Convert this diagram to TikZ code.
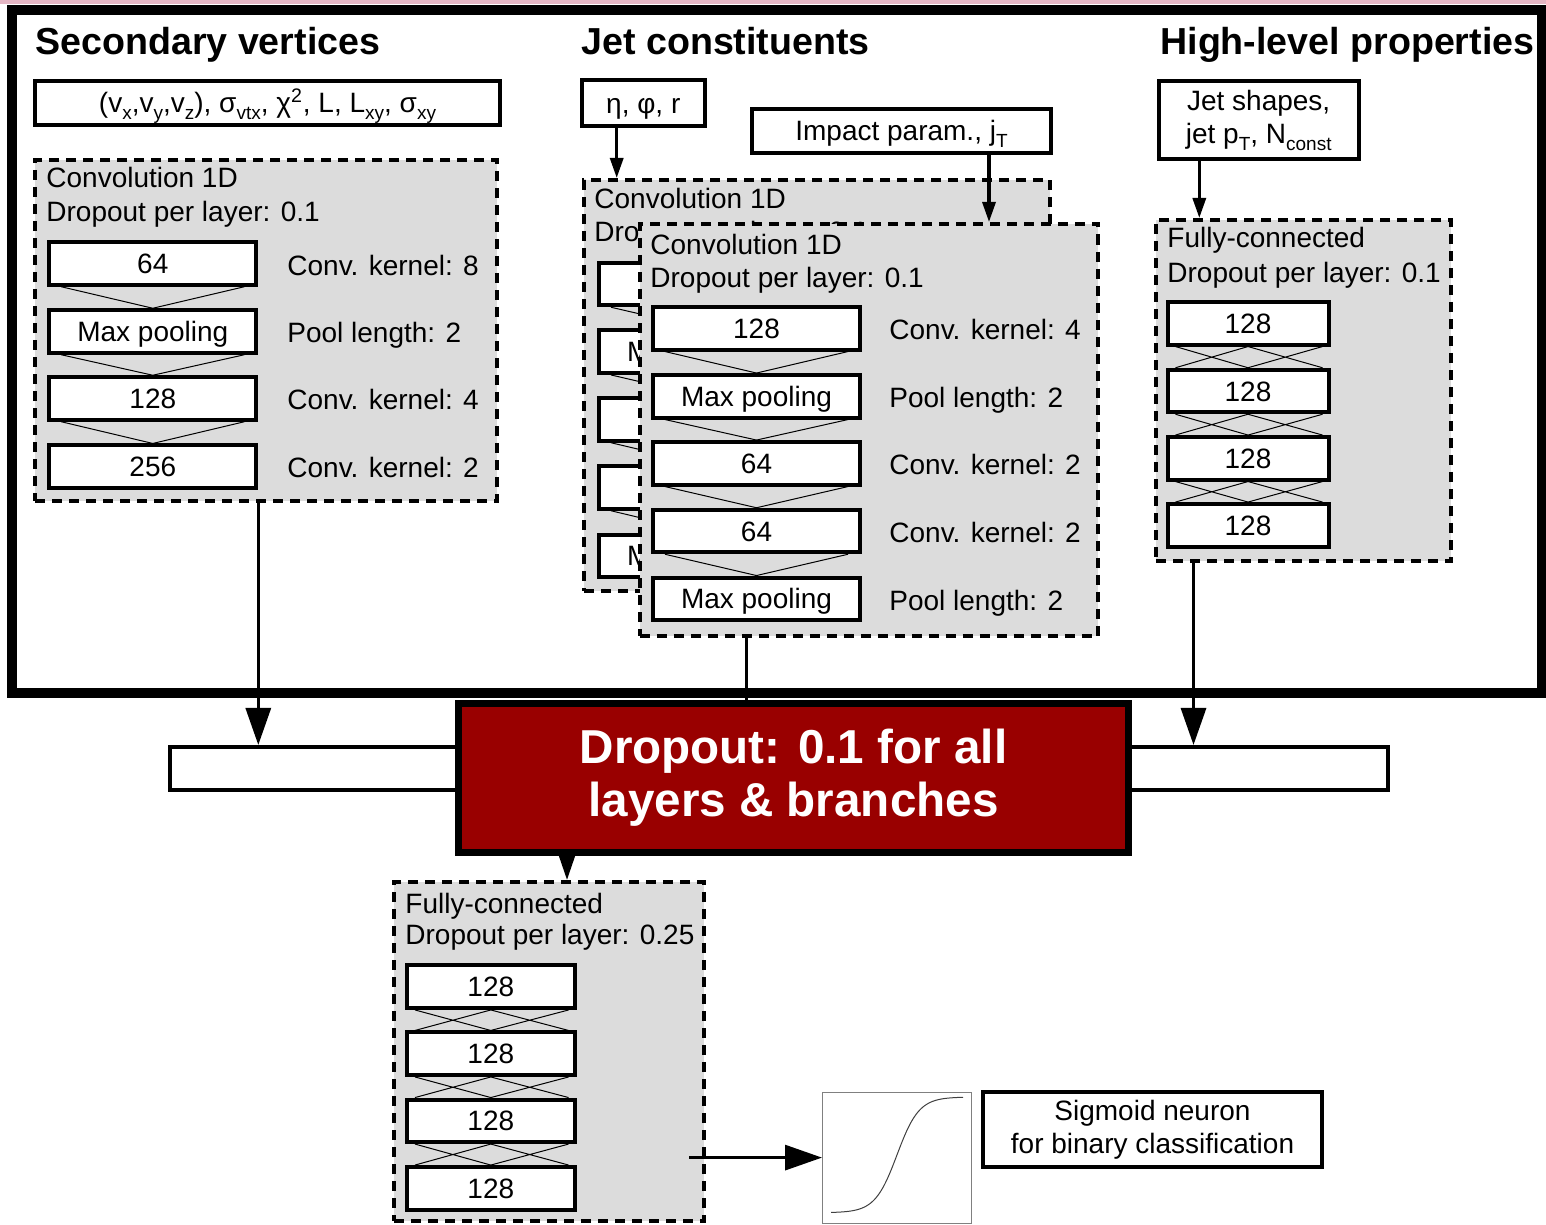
\documentclass[tikz,border=0pt]{standalone}
\usepackage{fontspec}
\setmainfont{Liberation Sans}
\usetikzlibrary{arrows.meta,calc}

\definecolor{groupgray}{RGB}{220,220,220}
\definecolor{dropred}{RGB}{153,0,0}
\definecolor{pinkband}{RGB}{228,182,196}
\newcommand{\lo}[1]{\raisebox{-3.5pt}{\fontsize{9.5}{9.5}\selectfont #1}}
\newcommand{\funnel}[2]{%
  \draw[link] ($(#1.south west)+(14,0)$) -- (#2.north) -- ($(#1.south east)+(-14,0)$);
}
\newcommand{\mesh}[2]{%
  \draw[link] ($(#1.south west)+(10,0)$) -- (#2.north)
              ($(#1.south east)+(-8,0)$) -- (#2.north)
              (#1.south) -- ($(#2.north west)+(10,0)$)
              (#1.south) -- ($(#2.north east)+(-8,0)$);
}

\begin{document}
\begin{tikzpicture}[x=0.5pt,y=-0.5pt,font=\fontsize{14}{16.5}\selectfont]

%
% Styles
%
\tikzstyle{layer} = [rectangle,draw,line width=2pt,fill=white,minimum height=21.25pt,inner sep=0pt,text height=10pt,text depth=0pt]
\tikzstyle{convlayer} = [layer,minimum width=103.5pt]
\tikzstyle{hllayer} = [layer,minimum width=80.5pt]
\tikzstyle{fclayer} = [layer,minimum width=83.8pt]
\tikzstyle{inbox} = [rectangle,draw,line width=2pt,fill=white,inner sep=0pt,text height=10pt,text depth=0pt]
\tikzstyle{inlines} = [rectangle,draw,line width=2pt,fill=white,inner sep=0pt,align=center]
\tikzstyle{group} = [rectangle,draw,line width=2pt,dash pattern=on 5pt off 3.5pt,fill=groupgray,inner sep=0pt]
\tikzstyle{title} = [anchor=base west,inner sep=0pt,font=\fontsize{18.8}{22}\selectfont\bfseries]
\tikzstyle{caption} = [anchor=base west,inner sep=0pt]
\tikzstyle{link} = [line width=0.5pt]
\tikzstyle{feed} = [line width=1.6pt,-{Triangle[length=18.5pt,width=12.5pt]}]
\tikzstyle{shortfeed} = [line width=1.6pt,-{Triangle[length=12.5pt,width=8pt]}]
\tikzstyle{infeed} = [line width=1.6pt,-{Triangle[length=10pt,width=6.5pt]}]

\useasboundingbox (0,0) rectangle (1546,1225);
\clip (0,0) rectangle (1546,1225);

\fill[pinkband] (0,0) rectangle (1546,4);
\draw[line width=5pt] (12,10) rectangle (1542,693);

% titles and inputs
\node[title] (svtitle) at (35,55)   {Secondary vertices};
\node[title] (jettitle) at (581,55) {Jet constituents};
\node[title] (hltitle) at (1160,55) {High-level properties};

\node[inbox,minimum width=232.2pt,minimum height=21.7pt] (svin) at (267.5,103)
  {(v\lo{x},v\lo{y},v\lo{z}), σ\lo{vtx}, χ\textsuperscript{2}, L, L\lo{xy}, σ\lo{xy}};
\node[inbox,minimum width=61.35pt,minimum height=23pt] (eta) at (643.3,103.3) {η, φ, r};
\node[inbox,minimum width=149.5pt,minimum height=22.15pt] (impact) at (901.5,130.8) {Impact param., j\lo{T}};
\node[inlines,minimum width=100pt,minimum height=38.7pt] (jetshapes) at (1258.7,120)
  {Jet shapes,\\jet p\lo{T}, N\lo{const}};

% secondary vertex branch
\node[group,minimum width=231pt,minimum height=170.5pt] (svconv) at (266,330.5) {};
\node[caption] (svhead) at (46,188) {Convolution 1D};
\node[caption] (svdrop) at (46,221) {Dropout per layer: 0.1};
\node[convlayer] (sv1) at (152.8,263.5) {64};
\node[convlayer] (sv2) at (152.8,331.5) {Max pooling};
\node[convlayer] (sv3) at (152.8,398.5) {128};
\node[convlayer] (sv4) at (152.8,466.7) {256};
\node[caption] (svk1) at (287,275)   {Conv. kernel: 8};
\node[caption] (svk2) at (287,342.5) {Pool length: 2};
\node[caption] (svk3) at (287,409.5) {Conv. kernel: 4};
\node[caption] (svk4) at (287,477.5) {Conv. kernel: 2};
\funnel{sv1}{sv2}
\funnel{sv2}{sv3}
\funnel{sv3}{sv4}

% jet constituent branches (back copy mostly hidden)
\node[group,minimum width=233pt,minimum height=205.5pt] (jetback) at (817,385.5) {};
\node[caption] (jbhead) at (594,209) {Convolution 1D};
\node[caption] (jbdrop) at (594,242) {Dropout per layer: 0.1};
\node[convlayer] (jb1) at (702.5,284)   {};
\node[convlayer] (jb2) at (702.5,351.7) {Max pooling};
\node[convlayer] (jb3) at (702.5,419.5) {};
\node[convlayer] (jb4) at (702.5,487.5) {};
\node[convlayer] (jb5) at (702.5,555.8) {Max pooling};
\funnel{jb1}{jb2}
\funnel{jb2}{jb3}
\funnel{jb3}{jb4}
\funnel{jb4}{jb5}

\node[group,minimum width=229.25pt,minimum height=206pt] (jetfront) at (868.75,430) {};
\node[caption] (jfhead) at (650,255) {Convolution 1D};
\node[caption] (jfdrop) at (650,287) {Dropout per layer: 0.1};
\node[convlayer] (jf1) at (756.5,328.3) {128};
\node[convlayer] (jf2) at (756.5,396.3) {Max pooling};
\node[convlayer] (jf3) at (756.5,463.3) {64};
\node[convlayer] (jf4) at (756.5,531)   {64};
\node[convlayer] (jf5) at (756.5,598.8) {Max pooling};
\node[caption] (jfk1) at (889,339.5) {Conv. kernel: 4};
\node[caption] (jfk2) at (889,407.5) {Pool length: 2};
\node[caption] (jfk3) at (889,474.5) {Conv. kernel: 2};
\node[caption] (jfk4) at (889,542)   {Conv. kernel: 2};
\node[caption] (jfk5) at (889,610)   {Pool length: 2};
\funnel{jf1}{jf2}
\funnel{jf2}{jf3}
\funnel{jf3}{jf4}
\funnel{jf4}{jf5}

% high-level branch
\node[group,minimum width=147.5pt,minimum height=170.5pt] (hlfc) at (1303.5,390.5) {};
\node[caption] (hlhead) at (1167,248) {Fully-connected};
\node[caption] (hldrop) at (1167,282) {Dropout per layer: 0.1};
\node[hllayer] (hl1) at (1248,323.3) {128};
\node[hllayer] (hl2) at (1248,391)   {128};
\node[hllayer] (hl3) at (1248,458.3) {128};
\node[hllayer] (hl4) at (1248,525.3) {128};
\mesh{hl1}{hl2}
\mesh{hl2}{hl3}
\mesh{hl3}{hl4}

% inputs into branches
\coordinate (etain) at ($(eta.south)+(-26.6,0)$);
\coordinate (ipin) at ($(impact.south)+(87.5,0)$);
\coordinate (hlin) at ($(jetshapes.south)+(-59.4,0)$);
\draw[infeed] (etain) -- (etain |- jetback.north);
\draw[infeed] (ipin) -- (ipin |- jetfront.north);
\draw[infeed] (hlin) -- (hlin |- hlfc.north);

% merge
\node[rectangle,draw,line width=2pt,fill=white,minimum width=608.85pt,minimum height=21.35pt] (merge) at (779.2,768.3) {};
\coordinate (svout) at (sv4.east |- svconv.south);
\coordinate (jetout) at ($(jf5.south |- jetfront.south)+(-10,0)$);
\coordinate (hlout) at ($(hl4.south west |- hlfc.south)+(28,0)$);
\draw[feed] (svout) -- (svout |- merge.north);
\draw[feed] (hlout) -- (hlout |- merge.north);
\node[rectangle,draw,line width=3.5pt,fill=dropred,text=white,align=center,minimum width=335pt,minimum height=74.5pt,
  font=\fontsize{23.8}{26.5}\selectfont\bfseries] (redbox) at (793.5,777.5) {Dropout: 0.1 for all\\layers \& branches};
\draw[line width=1.6pt] (jetout) -- (jetout |- redbox.north);

% final dense block
\node[group,minimum width=155pt,minimum height=169.5pt] (fcbox) at (549,1051.5) {};
\node[caption] (fchead) at (405,913) {Fully-connected};
\node[caption] (fcdrop) at (405,944) {Dropout per layer: 0.25};
\node[fclayer] (fc1) at (490.8,986.7)  {128};
\node[fclayer] (fc2) at (490.8,1053.7) {128};
\node[fclayer] (fc3) at (490.8,1120.8) {128};
\node[fclayer] (fc4) at (490.8,1188.3) {128};
\mesh{fc1}{fc2}
\mesh{fc2}{fc3}
\mesh{fc3}{fc4}
\coordinate (redout) at ($(redbox.south)+(-226.5,0)$);
\draw[shortfeed] (redout) -- (redout |- fcbox.north);

% output neuron
\node[rectangle,draw=black!50,line width=0.5pt,fill=white,minimum width=74.5pt,minimum height=65.4pt,inner sep=0pt] (sigplot) at (897,1157.6) {};
\draw[line width=0.5pt,black!75,domain=-6:6,samples=80] plot ({897+11*\x},{1212.7-115.7/(1+exp(-\x))});
\node[inlines,minimum width=169.5pt,minimum height=37.65pt] (siglabel) at (1152.5,1129.7)
  {Sigmoid neuron\\for binary classification};
\coordinate (fcout) at ($(fcbox.east |- sigplot.west)+(-17,0)$);
\draw[feed] (fcout) -- (sigplot.west);

\end{tikzpicture}
\end{document}
